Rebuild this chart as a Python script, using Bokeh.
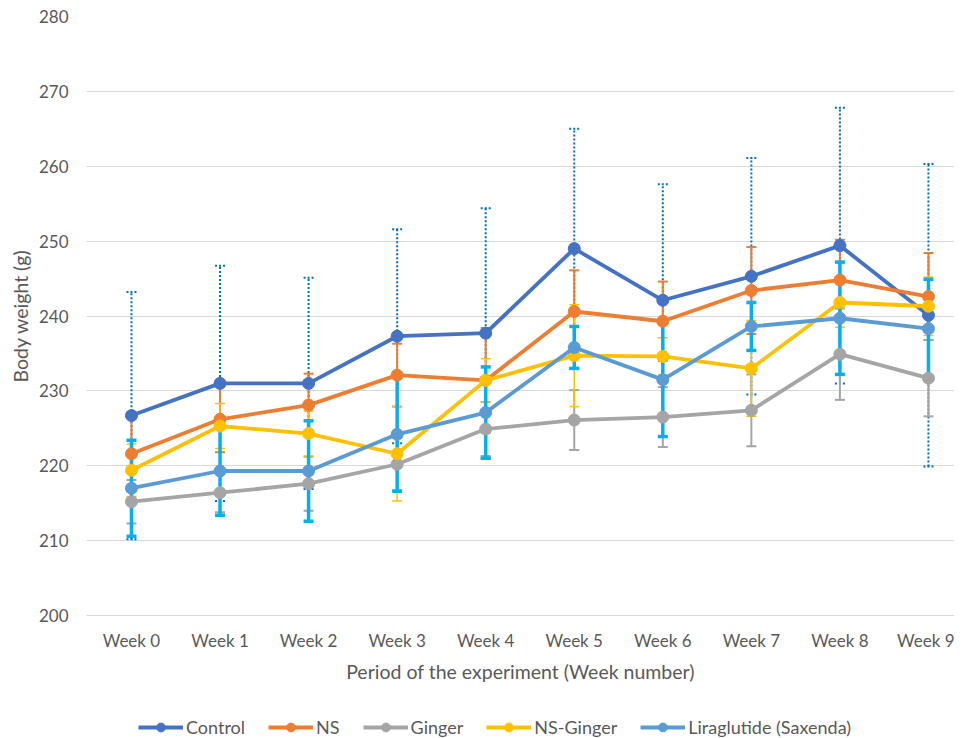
from bokeh.plotting import figure
from bokeh.layouts import column
from bokeh.models import (ColumnDataSource, Whisker, TeeHead, Legend, LegendItem,
                          FixedTicker, Range1d)
from bokeh.embed import file_html
from bokeh.resources import INLINE

weeks = ["Week 0", "Week 1", "Week 2", "Week 3", "Week 4",
         "Week 5", "Week 6", "Week 7", "Week 8", "Week 9"]

control = [226.7, 231.0, 231.0, 237.3, 237.7, 249.0, 242.1, 245.3, 249.4, 240.1]
control_sd = [16.5, 15.7, 14.1, 14.3, 16.7, 16.0, 15.5, 15.8, 18.4, 20.2]

ns = [221.6, 226.2, 228.1, 232.1, 231.4, 240.6, 239.3, 243.4, 244.8, 242.6]
ns_sd = [5.0, 4.4, 4.2, 4.2, 7.0, 5.5, 5.3, 5.8, 5.4, 5.8]

ginger = [215.2, 216.4, 217.6, 220.2, 224.9, 226.1, 226.5, 227.4, 234.9, 231.7]
ginger_sd = [2.9, 2.6, 3.6, 3.5, 3.6, 4.0, 4.0, 4.8, 6.1, 5.1]

ns_ginger = [219.4, 225.3, 224.3, 221.6, 231.4, 234.7, 234.6, 233.0, 241.8, 241.3]
ns_ginger_sd = [3.5, 3.0, 3.0, 6.3, 2.9, 6.8, 2.5, 6.4, 3.3, 3.9]

liraglutide = [217.0, 219.3, 219.3, 224.2, 227.1, 235.8, 231.5, 238.6, 239.7, 238.3]
liraglutide_sd = [6.4, 5.9, 6.7, 7.6, 6.1, 2.8, 7.6, 3.2, 7.5, 6.6]

series = [
    ("Control", control, control_sd, "#4472C4", "#0070C0", 2.0, "2 2"),
    ("NS", ns, ns_sd, "#ED7D31", "#ED7D31", 2.0, "solid"),
    ("Ginger", ginger, ginger_sd, "#A5A5A5", "#A5A5A5", 2.0, "solid"),
    ("NS-Ginger", ns_ginger, ns_ginger_sd, "#FFC000", "#FFC000", 1.5, "solid"),
    ("Liraglutide (Saxenda)", liraglutide, liraglutide_sd, "#5B9BD5", "#00B0F0", 3.5, "solid"),
]

FONT = "Lato"
TXT = "#595959"

p = figure(frame_width=868, frame_height=599, output_backend="svg",
           toolbar_location=None, x_range=Range1d(-0.508, 9.294),
           y_range=Range1d(200, 280),
           min_border_left=86, min_border_right=0, min_border_top=16,
           min_border_bottom=84)
p.outline_line_color = None
p.background_fill_color = "white"
p.border_fill_color = "white"

xs = list(range(len(weeks)))

# error bars first
for name, vals, sd, col, ecol, ew, dash in series:
    src = ColumnDataSource(dict(x=xs, lower=[v - s for v, s in zip(vals, sd)],
                                upper=[v + s for v, s in zip(vals, sd)]))
    w = Whisker(source=src, base="x", lower="lower", upper="upper",
                line_color=ecol, line_width=ew, line_dash=dash,
                upper_head=TeeHead(size=10, line_color=ecol, line_width=ew, line_dash=dash),
                lower_head=TeeHead(size=10, line_color=ecol, line_width=ew, line_dash=dash))
    p.add_layout(w)

for name, vals, sd, col, ecol, ew, dash in series:
    src = ColumnDataSource(dict(x=xs, y=vals))
    p.line("x", "y", source=src, line_color=col, line_width=3.8)
    p.scatter("x", "y", source=src, size=12, fill_color=col, line_color=col)

p.xaxis.ticker = FixedTicker(ticks=xs)
p.xaxis.major_label_overrides = {i: w for i, w in enumerate(weeks)}
p.xaxis.axis_label = "Period of the experiment (Week number)"
p.yaxis.axis_label = "Body weight (g)"
p.yaxis.ticker = FixedTicker(ticks=list(range(200, 281, 10)))

for ax in (p.xaxis, p.yaxis):
    ax.major_tick_line_color = None
    ax.minor_tick_line_color = None
    ax.major_label_text_font = FONT
    ax.major_label_text_font_size = "17px"
    ax.major_label_text_color = TXT
    ax.axis_label_text_font = FONT
    ax.axis_label_text_font_size = "19.5px"
    ax.axis_label_text_font_style = "normal"
    ax.axis_label_text_color = TXT
p.yaxis.axis_line_color = None
p.xaxis.axis_line_color = "#D9D9D9"
p.xaxis.major_label_standoff = 8
p.xaxis.axis_label_standoff = 6
p.yaxis.major_label_standoff = 12
p.yaxis.axis_label_standoff = 4

p.xgrid.grid_line_color = None
p.ygrid.grid_line_color = "#D9D9D9"
p.ygrid.grid_line_width = 1

# legend strip underneath
lg = figure(frame_width=954, frame_height=39, output_backend="svg",
            toolbar_location=None, x_axis_type=None, y_axis_type=None,
            x_range=Range1d(0, 1), y_range=Range1d(0, 1),
            min_border_left=0, min_border_right=0, min_border_top=0,
            min_border_bottom=0)
lg.outline_line_color = None
lg.xgrid.visible = False
lg.ygrid.visible = False
items = []
for name, vals, sd, col, ecol, ew, dash in series:
    hidden = ColumnDataSource(dict(x=[-10, -11], y=[-10, -11]))
    l = lg.line("x", "y", source=hidden, line_color=col, line_width=3.8)
    c = lg.scatter("x", "y", source=hidden, size=12, fill_color=col, line_color=col)
    items.append(LegendItem(label=name, renderers=[l, c]))
legend = Legend(items=items, orientation="horizontal", location=(138, 0),
                glyph_width=45, glyph_height=22, label_standoff=3, spacing=23,
                label_text_font=FONT, label_text_font_size="18px",
                label_text_color=TXT, border_line_color=None,
                background_fill_alpha=0, padding=2, margin=0)
lg.add_layout(legend, "center")

layout = column(p, lg, spacing=0)
open("out.html", "w").write(file_html(layout, INLINE))
